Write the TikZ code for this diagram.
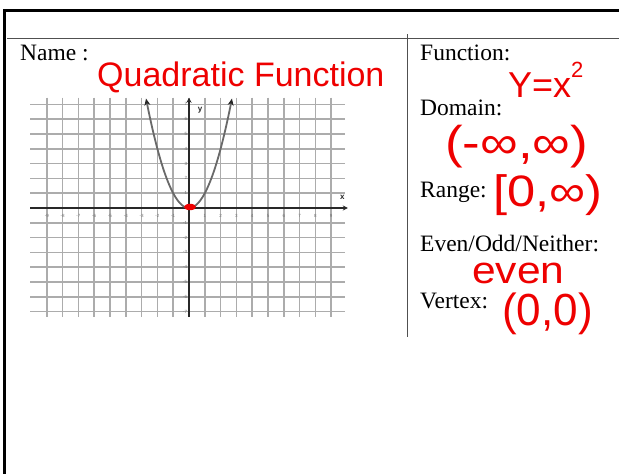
\documentclass[tikz,border=0pt]{standalone}
\usepackage{fontspec}
\setmainfont{Liberation Serif}
\newfontfamily\hand{Liberation Sans}
\usetikzlibrary{arrows.meta}
\definecolor{ink}{RGB}{238,0,0}
\definecolor{gridc}{RGB}{172,172,172}
\definecolor{axisc}{RGB}{40,40,40}
\definecolor{curvec}{RGB}{105,105,105}
\definecolor{rulec}{RGB}{80,80,80}
\begin{document}
\begin{tikzpicture}[x=1pt,y=-1pt,
  lbl/.style={font=\fontsize{23.5}{28}\selectfont, inner sep=0pt, anchor=base west},
  hw/.style={text=ink, inner sep=0pt, anchor=base west, text height=0.72em, text depth=0.2em},
  tick/.style={font=\hand\fontsize{4.5}{5}\selectfont, text=black!55, inner sep=0pt},
  gridline/.style={gridc, line width=1.5pt},
  axisline/.style={axisc, line width=2.6pt}]
\useasboundingbox (0,0) rectangle (619,474);
\fill[white] (0,0) rectangle (619,474);
% outer frame
\draw[line width=3pt, line join=miter] (4.5,480) -- (4.5,10) -- (625,10);
% table rules
\draw[rulec, line width=1pt] (7,38) -- (625,38);
\draw[rulec, line width=1pt] (407.5,34) -- (407.5,337);
% labels
\node[lbl] (name) at (20,60) {Name :};
\node[lbl] (func) at (420,60) {Function:};
\node[lbl] (dom) at (420,115) {Domain:};
\node[lbl] (rng) at (420,197) {Range:};
\node[lbl] (eon) at (420,251) {Even/Odd/Neither:};
\node[lbl] (vtx) at (420,308) {Vertex:};
% graph
\begin{scope}[shift={(189,208)}, x=15.8pt, y=14.8pt]
  \foreach \i in {-9,...,9} \draw[gridline] (\i,7.45) -- (\i,-7.35);
  \foreach \j in {-7,...,7} \draw[gridline] (-10.05,\j) -- (9.9,\j);
  \foreach \i in {-9,...,-1,1,2,...,9} \node[tick] (xt\i) at (\i,-0.55) {\i};
  \foreach \j in {-7,...,-1,1,2,...,7} \node[tick, anchor=east] (yt\j) at (-0.1,\j) {\j};
  \draw[axisline, -{Stealth[length=5pt,width=5pt]}] (-10.05,0) -- (10.05,0);
  \draw[axisline, -{Stealth[length=5pt,width=5pt]}] (0,-7.35) -- (0,7.45);
  \draw[curvec, line width=1.8pt, {Stealth[length=7pt,width=6pt,color=axisc]}-{Stealth[length=7pt,width=6pt,color=axisc]}]
    plot[domain=-2.72:2.72, samples=60, smooth] (\x,{\x*\x});
  \node[font=\hand\bfseries\fontsize{8}{8}\selectfont, text=axisc, inner sep=0pt] (ylab) at (0.7,6.6) {y};
  \node[font=\hand\bfseries\fontsize{8}{8}\selectfont, text=axisc, inner sep=0pt] (xlab) at (9.7,0.75) {x};
\end{scope}
% red dot at vertex
\fill[ink] (190,207) ellipse (6pt and 3.2pt);
% handwriting
\node[hw, font=\hand\fontsize{34}{40}\selectfont] (qf) at (97,86) {Quadratic Function};
\node[hw, font=\hand\fontsize{36}{40}\selectfont, text depth=0pt] (fx) at (508,97) {Y=x\raisebox{0.55em}{\fontsize{22}{22}\selectfont 2}};
\node[hw, font=\hand\fontsize{46}{50}\selectfont] (dm) at (445,158) {\scalebox{1.15}[1]{(-∞,∞)}};
\node[hw, font=\hand\fontsize{44}{50}\selectfont] (rg) at (493,206) {\scalebox{1.15}[1]{[0,∞)}};
\node[hw, font=\hand\fontsize{38}{42}\selectfont, text height=0.53em, text depth=0pt] (ev) at (472,283) {\scalebox{1.12}[1]{even}};
\node[hw, font=\hand\fontsize{45}{50}\selectfont, text height=0.7em] (vx) at (502,325) {\scalebox{0.98}[1]{(0,0)}};
\end{tikzpicture}
\end{document}
